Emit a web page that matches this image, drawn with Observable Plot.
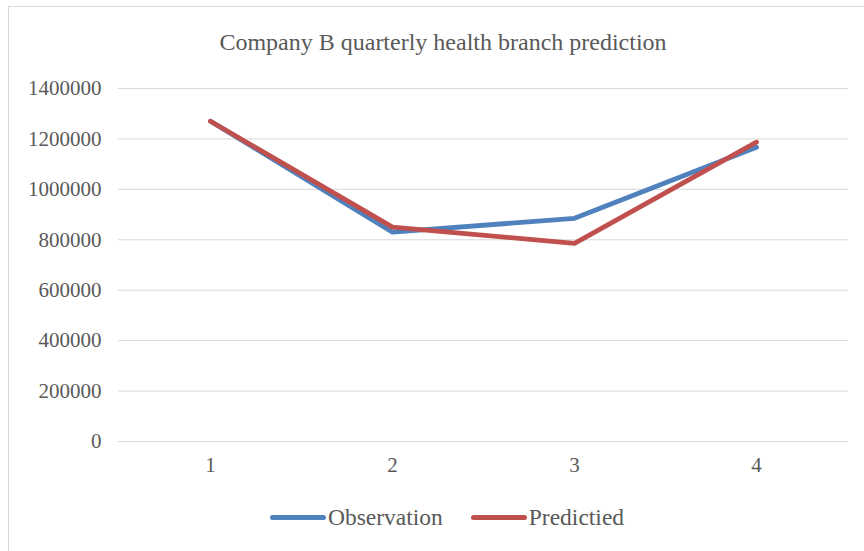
<!DOCTYPE html>
<html>
<head>
<meta charset="utf-8">
<script src="https://cdn.jsdelivr.net/npm/d3@7"></script>
<script src="https://cdn.jsdelivr.net/npm/@observablehq/plot@0.6"></script>
<style>
  html, body { margin: 0; padding: 0; width: 864px; height: 551px; overflow: hidden; background: #fff; }
  #wrap { position: relative; width: 864px; height: 551px; font-family: "Liberation Serif", "Times New Roman", serif; color: #595959; }
  #frame { position: absolute; left: 8px; top: 6px; width: 900px; height: 600px; border: 1px solid #d9d9d9; box-sizing: border-box; }
  #title { position: absolute; left: 0; width: 886px; top: 27px; text-align: center; font-size: 24px; line-height: 30px; }
  #chart { position: absolute; left: 0; top: 0; }
  #legend { position: absolute; left: 0; width: 894px; top: 503px; display: flex; justify-content: center; align-items: center; font-size: 23.5px; line-height: 28px; }
  .item { display: flex; align-items: center; margin: 0 14px; }
  .swatch { width: 56px; height: 5px; border-radius: 3px; margin-right: 2px; }
</style>
</head>
<body>
<div id="wrap">
  <div id="frame"></div>
  <div id="chart"></div>
  <div id="title">Company B quarterly health branch prediction</div>
  <div id="legend"></div>
</div>
<script>
const quarters = [1, 2, 3, 4];
const observation = [1270000, 830000, 885000, 1167000];
const predicted = [1270000, 850000, 786000, 1187000];
const seriesNames = ["Observation", "Predictied"];
const seriesColors = ["#4f81bd", "#c0504d"];
const yTicks = [0, 200000, 400000, 600000, 800000, 1000000, 1200000, 1400000];

const data = [];
quarters.forEach((q, i) => {
  data.push({q: String(q), v: observation[i], s: seriesNames[0]});
});
quarters.forEach((q, i) => {
  data.push({q: String(q), v: predicted[i], s: seriesNames[1]});
});

const chart = Plot.plot({
  width: 864,
  height: 490,
  marginTop: 88,
  marginBottom: 49,
  marginLeft: 118,
  marginRight: 16,
  style: {fontFamily: '"Liberation Serif", "Times New Roman", serif', fontSize: "21px", color: "#595959", background: "transparent", overflow: "visible"},
  x: {type: "point", domain: quarters.map(String), padding: 0.5, label: null},
  y: {domain: [0, 1400000], ticks: yTicks, label: null},
  color: {domain: seriesNames, range: seriesColors},
  marks: [
    Plot.gridY(yTicks, {stroke: "#d9d9d9", strokeOpacity: 1, strokeWidth: 1}),
    Plot.axisY(yTicks, {tickSize: 0, tickPadding: 17, tickFormat: d => String(d), fill: "#595959", fontSize: 21}),
    Plot.axisX({tickSize: 0, tickPadding: 16, fill: "#595959", fontSize: 21}),
    Plot.lineY(data, {x: "q", y: "v", z: "s", stroke: "s", strokeWidth: 4.8, strokeLinecap: "round", strokeLinejoin: "round"})
  ]
});
document.getElementById("chart").appendChild(chart);

const legend = document.getElementById("legend");
seriesNames.forEach((n, i) => {
  const it = document.createElement("div");
  it.className = "item";
  const sw = document.createElement("div");
  sw.className = "swatch";
  sw.style.background = seriesColors[i];
  const t = document.createElement("span");
  t.textContent = n;
  it.appendChild(sw);
  it.appendChild(t);
  legend.appendChild(it);
});
</script>
</body>
</html>
